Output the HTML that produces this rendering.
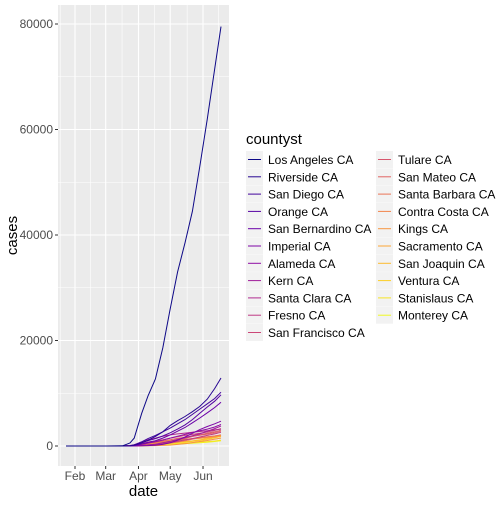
<!DOCTYPE html>
<html><head><meta charset="utf-8"><style>
body{margin:0;background:#fff;font-family:"Liberation Sans",sans-serif}
svg text{font-family:"Liberation Sans",sans-serif}
</style></head><body>
<svg id="c" width="504" height="504" xmlns="http://www.w3.org/2000/svg"></svg>
<script>
const names=["Los Angeles CA","Riverside CA","San Diego CA","Orange CA","San Bernardino CA","Imperial CA","Alameda CA","Kern CA","Santa Clara CA","Fresno CA","San Francisco CA","Tulare CA","San Mateo CA","Santa Barbara CA","Contra Costa CA","Kings CA","Sacramento CA","San Joaquin CA","Ventura CA","Stanislaus CA","Monterey CA"];
const days=[-8.5,30,45,52,56,63,69,76,83,90,97,104,111,118,125,132,138];
const losAngeles=[0,0,30,570,1500,6200,9500,12700,18600,26000,33000,38500,44500,53000,62000,71500,79500];
const riverside=[0,0,0,30,150,600,1100,1800,2700,3900,4800,5600,6500,7500,8900,10900,12900];
const sanDiego=[0,0,0,40,200,800,1400,2000,2700,3400,4200,5000,6000,7000,8000,9000,10200];
const orange=[0,0,0,40,200,600,1000,1400,1900,2500,3200,4000,5000,6200,7400,8500,9700];
const sanBernardino=[0,0,0,20,100,400,700,1000,1500,2100,2800,3500,4400,5300,6300,7300,8300];
const imperial=[0,0,0,0,10,30,70,150,300,600,1100,1700,2400,3100,3700,4200,4700];
const alameda=[0,0,0,20,80,300,550,800,1100,1500,1850,2200,2550,2900,3200,3600,4100];
const kern=[0,0,0,5,20,100,200,350,600,900,1250,1600,1950,2300,2800,3300,3800];
const santaClara=[0,0,10,100,250,800,1200,1500,1850,2100,2300,2450,2600,2750,2900,3050,3200];
const fresno=[0,0,0,10,30,100,180,300,450,650,900,1150,1400,1700,2000,2300,2600];
const sanFrancisco=[0,0,5,50,150,450,750,950,1200,1500,1750,2000,2200,2400,2650,2950,3300];
const tulare=[0,0,0,5,15,60,150,300,500,750,1100,1450,1800,2100,2400,2700,3000];
const sanMateo=[0,0,5,50,150,400,600,750,950,1200,1450,1650,1850,2050,2250,2500,2800];
const santaBarbara=[0,0,0,5,20,100,200,320,420,550,750,1000,1300,1550,1750,1900,2100];
const contraCosta=[0,0,0,30,100,300,450,580,730,900,1080,1250,1420,1560,1700,1900,2100];
const kings=[0,0,0,0,5,20,40,80,120,180,300,450,650,850,1050,1300,1500];
const sacramento=[0,0,0,30,120,350,500,650,820,1000,1150,1250,1350,1450,1550,1700,1900];
const sanJoaquin=[0,0,0,10,50,170,300,450,580,680,770,860,960,1150,1400,1700,2000];
const ventura=[0,0,0,10,50,170,280,380,480,580,670,760,870,1050,1250,1550,1800];
const stanislaus=[0,0,0,5,25,100,180,260,320,400,490,570,650,740,830,950,1100];
const monterey=[0,0,0,5,15,50,100,160,220,300,380,460,540,620,710,850,1000];
const series=[losAngeles,riverside,sanDiego,orange,sanBernardino,imperial,alameda,kern,santaClara,fresno,sanFrancisco,tulare,sanMateo,santaBarbara,contraCosta,kings,sacramento,sanJoaquin,ventura,stanislaus,monterey];
const yTicks=[0,20000,40000,60000,80000];
const xTickLabels=["Feb","Mar","Apr","May","Jun"];
const xTickDays=[0,29,60,90,121];
const xMinorDays=[-14,14.5,44.5,75,106,135.5];

const NS="http://www.w3.org/2000/svg";
const svg=document.getElementById('c');
const L=58,R=229,T=5,B=466;
const x=d=>75+d*1.058;
const y=v=>446-v*105.5/20000;
function el(t,a,p){const e=document.createElementNS(NS,t);for(const k in a)e.setAttribute(k,a[k]);(p||svg).appendChild(e);return e;}
const plasma=["#0d0887","#41049d","#6a00a8","#8f0da4","#b12a90","#cc4778","#e16462","#f2844b","#fca636","#fcce25","#f0f921"];
function hx(h){return [1,3,5].map(i=>parseInt(h.substr(i,2),16));}
function col(t){const s=t*10,i=Math.min(9,Math.floor(s)),f=s-i,a=hx(plasma[i]),b=hx(plasma[i+1]);return `rgb(${a.map((v,j)=>Math.round(v+(b[j]-v)*f)).join(',')})`;}

const panel=el('rect',{x:L,y:T,width:R-L,height:B-T,fill:'#ebebeb'});


const yMinor=[10000,30000,50000,70000];
yMinor.forEach(v=>el('line',{x1:L,x2:R,y1:y(v),y2:y(v),stroke:'#fff','stroke-width':0.6}));
xMinorDays.forEach(d=>{if(x(d)>L&&x(d)<R)el('line',{x1:x(d),x2:x(d),y1:T,y2:B,stroke:'#fff','stroke-width':0.6});});
yTicks.forEach(v=>{
  el('line',{x1:L,x2:R,y1:y(v),y2:y(v),stroke:'#fff','stroke-width':1.1});
  el('line',{x1:L-3,x2:L,y1:y(v),y2:y(v),stroke:'#333','stroke-width':1});
  const t=el('text',{x:L-5,y:y(v)+4,'text-anchor':'end','font-size':12,fill:'#4d4d4d'});t.textContent=v;
  
  
});
xTickDays.forEach((d,i)=>{
  el('line',{x1:x(d),x2:x(d),y1:T,y2:B,stroke:'#fff','stroke-width':1.1});
  el('line',{x1:x(d),x2:x(d),y1:B,y2:B+3,stroke:'#333','stroke-width':1});
  const t=el('text',{x:x(d),y:B+14,'text-anchor':'middle','font-size':12,fill:'#4d4d4d'});t.textContent=xTickLabels[i];
  
  
});
for(let s=series.length-1;s>=0;s--){
  const pts=days.map((d,i)=>x(d).toFixed(1)+','+y(series[s][i]).toFixed(1)).join(' ');
  const p=el('polyline',{points:pts,fill:'none',stroke:col(s/20),'stroke-width':1});
  
  
}
const xt=el('text',{x:(L+R)/2,y:496,'text-anchor':'middle','font-size':15,fill:'#000'});xt.textContent='date';


const yt=el('text',{x:0,y:0,transform:`translate(17,${(T+B)/2}) rotate(-90)`,'text-anchor':'middle','font-size':15,fill:'#000'});yt.textContent='cases';


const lt=el('text',{x:246,y:144,'font-size':15,fill:'#000'});lt.textContent='countyst';


names.forEach((n,i)=>{
  const c=i<11?0:1,r=i<11?i:i-11;
  const kx=246+c*130,ky=151+r*17.3;
  const g=el('g',{});
  
  
  el('rect',{x:kx,y:ky,width:17,height:17,fill:'#f2f2f2'},g);
  el('line',{x1:kx+2,x2:kx+15,y1:ky+8.5,y2:ky+8.5,stroke:col(i/20),'stroke-width':1},g);
  const t=el('text',{x:kx+22,y:ky+13,'font-size':12,fill:'#000'},g);t.textContent=n;
});
</script>
</body></html>
